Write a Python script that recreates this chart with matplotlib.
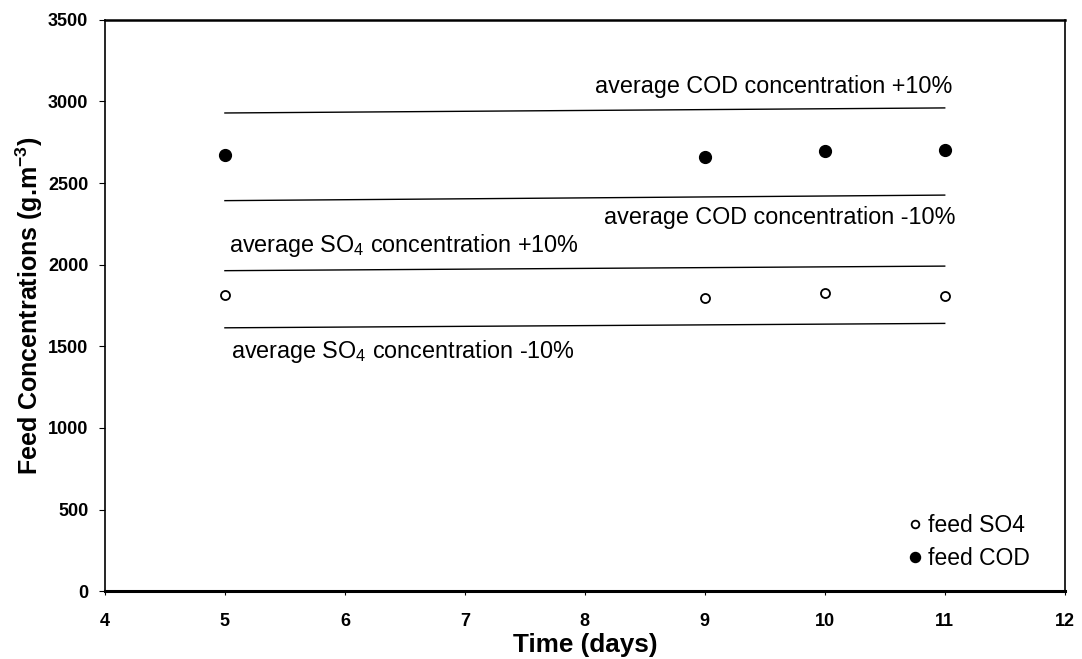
import matplotlib
matplotlib.use("Agg")
import matplotlib.pyplot as plt

plt.rcParams['font.family'] = ['Liberation Sans', 'DejaVu Sans']
plt.rcParams['mathtext.fontset'] = 'custom'
plt.rcParams['mathtext.rm'] = 'Liberation Sans'
plt.rcParams['mathtext.it'] = 'Liberation Sans:italic'
plt.rcParams['mathtext.bf'] = 'Liberation Sans:bold'

# Data
days = [5, 9, 10, 11]
feed_cod = [2672, 2661, 2698, 2702]
feed_so4 = [1814, 1793, 1828, 1808]

band_x = [5, 11]
cod_plus10 = [2929, 2960]
cod_minus10 = [2392, 2426]
so4_plus10 = [1963, 1991]
so4_minus10 = [1613, 1640]

x_ticks = [4, 5, 6, 7, 8, 9, 10, 11, 12]
y_ticks = [0, 500, 1000, 1500, 2000, 2500, 3000, 3500]

fig = plt.figure(figsize=(10.82, 6.59), dpi=100)
ax = fig.add_axes([0.097, 0.103, 0.887, 0.867])

for yv in (cod_plus10, cod_minus10, so4_plus10, so4_minus10):
    ax.plot(band_x, yv, color='black', lw=1.0)

ax.plot(days, feed_so4, linestyle='none', marker='o', ms=6.5, mfc='white',
        mec='black', mew=1.3, label='feed SO4')
ax.plot(days, feed_cod, linestyle='none', marker='o', ms=8.5, mfc='black',
        mec='black', label='feed COD')

fs = 16.8
ax.text(11.06, 3090, 'average COD concentration +10%', ha='right', va='center', fontsize=fs)
ax.text(11.09, 2290, 'average COD concentration -10%', ha='right', va='center', fontsize=fs)
ax.text(5.03, 2115, 'average SO$_4$ concentration +10%', ha='left', va='center', fontsize=fs)
ax.text(5.05, 1465, 'average SO$_4$ concentration -10%', ha='left', va='center', fontsize=fs)

ax.set_xlim(4, 12)
ax.set_ylim(0, 3500)
ax.set_xticks(x_ticks)
ax.set_yticks(y_ticks)
ax.set_xticklabels([str(t) for t in x_ticks], fontsize=13, fontweight='bold')
ax.set_yticklabels([str(t) for t in y_ticks], fontsize=13, fontweight='bold')
ax.tick_params(axis='x', direction='out', length=3, pad=13)
ax.tick_params(axis='y', direction='out', length=4, pad=8)

ax.set_xlabel('Time (days)', fontsize=18.8, fontweight='bold', labelpad=2)
ax.set_ylabel('Feed Concentrations (g.m$^{\\mathbf{-3}}$)', fontsize=18,
              fontweight='bold', labelpad=2)

ax.spines['bottom'].set_linewidth(2.2)
ax.spines['top'].set_linewidth(1.8)
ax.spines['left'].set_linewidth(1.2)
ax.spines['right'].set_linewidth(1.2)

leg = ax.legend(loc='lower right', frameon=False, fontsize=16.5, handlelength=0.5,
                handletextpad=0.3, labelspacing=0.45, borderaxespad=0.5,
                markerscale=0.85, bbox_to_anchor=(0.985, 0.0))

fig.savefig('out.png', dpi=100)
